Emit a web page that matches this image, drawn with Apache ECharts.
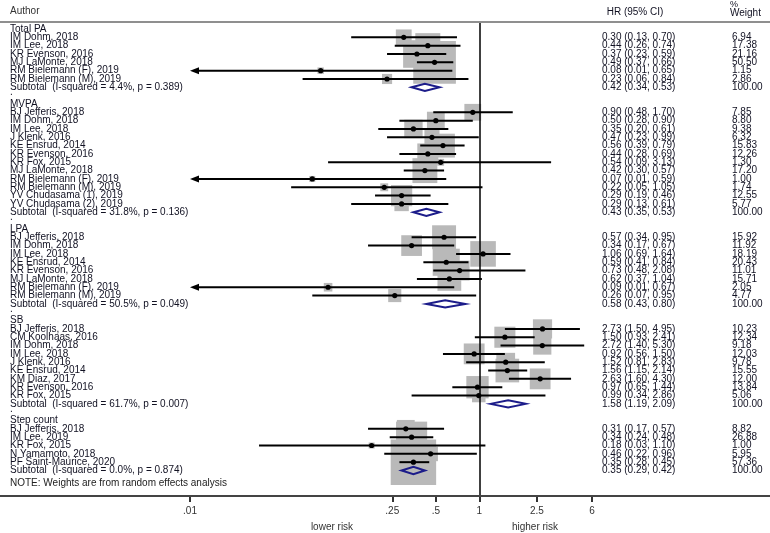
<!DOCTYPE html>
<html><head><meta charset="utf-8">
<script src="https://cdn.jsdelivr.net/npm/echarts@6/dist/echarts.min.js"></script>
<style>html,body{margin:0;padding:0;background:#fff}#c{width:770px;height:533px}</style>
</head><body><div id="c"></div>
<script>
const groupNames = ['Total PA', 'MVPA', 'LPA', 'SB', 'Step count'];

const studyGroup = [
  0,0,0,0,0,0,
  1,1,1,1,1,1,1,1,1,1,1,1,
  2,2,2,2,2,2,2,2,
  3,3,3,3,3,3,3,3,3,
  4,4,4,4,4
];
const studyName = [
  'IM Dohm, 2018','IM Lee, 2018','KR Evenson, 2016','MJ LaMonte, 2018','RM Bielemann (F), 2019','RM Bielemann (M), 2019',
  'BJ Jefferis, 2018','IM Dohm, 2018','IM Lee, 2018','J Klenk, 2016','KE Ensrud, 2014','KR Evenson, 2016','KR Fox, 2015','MJ LaMonte, 2018','RM Bielemann (F), 2019','RM Bielemann (M), 2019','YV Chudasama (1), 2019','YV Chudasama (2), 2019',
  'BJ Jefferis, 2018','IM Dohm, 2018','IM Lee, 2018','KE Ensrud, 2014','KR Evenson, 2016','MJ LaMonte, 2018','RM Bielemann (F), 2019','RM Bielemann (M), 2019',
  'BJ Jefferis, 2018','CM Koolhaas, 2016','IM Dohm, 2018','IM Lee, 2018','J Klenk, 2016','KE Ensrud, 2014','KM Diaz, 2017','KR Evenson, 2016','KR Fox, 2015',
  'BJ Jefferis, 2018','IM Lee, 2019','KR Fox, 2015','N Yamamoto, 2018','PF Saint-Maurice, 2020'
];
const studyHR = [
  0.30,0.44,0.37,0.49,0.08,0.23,
  0.90,0.50,0.35,0.47,0.56,0.44,0.54,0.42,0.07,0.22,0.29,0.29,
  0.57,0.34,1.06,0.59,0.73,0.62,0.09,0.26,
  2.73,1.50,2.72,0.92,1.52,1.56,2.63,0.97,0.99,
  0.31,0.34,0.18,0.46,0.35
];
const studyLo = [
  0.13,0.26,0.23,0.37,0.01,0.06,
  0.48,0.28,0.20,0.23,0.39,0.28,0.09,0.30,0.01,0.05,0.19,0.13,
  0.34,0.17,0.69,0.41,0.48,0.37,0.01,0.07,
  1.50,0.93,1.40,0.56,0.81,1.15,1.60,0.65,0.34,
  0.17,0.24,0.03,0.22,0.28
];
const studyHi = [
  0.70,0.74,0.59,0.66,0.65,0.84,
  1.70,0.90,0.61,0.99,0.79,0.69,3.13,0.57,0.59,1.05,0.46,0.61,
  0.95,0.67,1.64,0.84,2.08,1.04,0.67,0.95,
  4.95,2.41,5.30,1.50,2.83,2.14,4.30,1.44,2.86,
  0.57,0.48,1.10,0.96,0.45
];
const studyWeight = [
  6.94,17.38,21.16,50.50,1.15,2.86,
  7.85,8.80,9.38,6.32,15.83,12.26,1.30,17.20,1.00,1.74,12.55,5.77,
  15.92,11.92,18.19,20.43,11.01,15.71,2.05,4.77,
  10.23,12.34,9.18,12.03,9.78,15.55,12.00,13.84,5.06,
  8.82,26.88,1.00,5.95,57.36
];

const subtotalLabel = [
  'Subtotal  (I-squared = 4.4%, p = 0.389)',
  'Subtotal  (I-squared = 31.8%, p = 0.136)',
  'Subtotal  (I-squared = 50.5%, p = 0.049)',
  'Subtotal  (I-squared = 61.7%, p = 0.007)',
  'Subtotal  (I-squared = 0.0%, p = 0.874)'
];
const subtotalHR = [0.42, 0.43, 0.58, 1.58, 0.35];
const subtotalLo = [0.34, 0.35, 0.43, 1.19, 0.29];
const subtotalHi = [0.53, 0.53, 0.80, 2.09, 0.42];
const subtotalWeight = [100, 100, 100, 100, 100];

const tickValues = [0.01, 0.25, 0.5, 1, 2.5, 6];
const tickLabels = ['.01', '.25', '.5', '1', '2.5', '6'];
const noteText = 'NOTE: Weights are from random effects analysis';
const AXIS_MIN = 0.01, AXIS_MAX = 6;

// ---- build row layout ----
const textRows = [];   // [row, label, hrText, wText, kind]
const studyRows = [];  // [hr, row, lo, hi, w]
const subRows = [];    // [hr, row, lo, hi]
let r = 0;
groupNames.forEach((g, gi) => {
  textRows.push([r, g, '', '', 'head']); r++;
  studyName.forEach((n, i) => {
    if (studyGroup[i] !== gi) return;
    studyRows.push([studyHR[i], r, studyLo[i], studyHi[i], studyWeight[i]]);
    textRows.push([r, n,
      studyHR[i].toFixed(2) + ' (' + studyLo[i].toFixed(2) + ', ' + studyHi[i].toFixed(2) + ')',
      studyWeight[i].toFixed(2), 'study']);
    r++;
  });
  subRows.push([subtotalHR[gi], r, subtotalLo[gi], subtotalHi[gi]]);
  textRows.push([r, subtotalLabel[gi],
    subtotalHR[gi].toFixed(2) + ' (' + subtotalLo[gi].toFixed(2) + ', ' + subtotalHi[gi].toFixed(2) + ')',
    subtotalWeight[gi].toFixed(2), 'sub']);
  r++;
  if (gi < groupNames.length - 1) { textRows.push([r, '.', '', '', 'blank']); r++; }
});
textRows.push([r + 0.5, noteText, '', '', 'note']);

const FONT = '"Liberation Sans", Arial, Helvetica, sans-serif';
const TXT = '#111122';

const chart = echarts.init(document.getElementById('c'), null, {renderer: 'canvas'});

const option = {
  animation: false,
  backgroundColor: '#fff',
  grid: {left: 190, width: 402, top: 22, height: 474},
  xAxis: {
    type: 'log', logBase: 10, min: AXIS_MIN, max: AXIS_MAX, position: 'bottom',
    axisLine: {show: false, onZero: false},
    splitLine: {show: false},
    minorTick: {show: false},
    axisTick: {show: true, customValues: tickValues, length: 6, lineStyle: {color: '#333', width: 2}},
    axisLabel: {
      customValues: tickValues, margin: 10, color: '#333', fontSize: 10, fontFamily: FONT,
      formatter: v => {
        for (let i = 0; i < tickValues.length; i++) {
          if (Math.abs(tickValues[i] - v) / tickValues[i] < 1e-4) return tickLabels[i];
        }
        return '';
      }
    }
  },
  yAxis: {type: 'value', inverse: true, min: -0.84, max: 56.06, show: false},
  graphic: [
    {type: 'line', shape: {x1: 0, y1: 22, x2: 770, y2: 22}, style: {stroke: '#8f8f8f', lineWidth: 2}, z: 50},
    {type: 'line', shape: {x1: 0, y1: 496, x2: 770, y2: 496}, style: {stroke: '#444', lineWidth: 2}, z: 50},
    {type: 'text', left: 10, top: 6, style: {text: 'Author', fill: '#333', font: '10px ' + FONT}},
    {type: 'text', x: 635, y: 12, style: {text: 'HR (95% CI)', fill: TXT, font: '10px ' + FONT, textAlign: 'center', textVerticalAlign: 'middle'}},
    {type: 'text', x: 730, y: 5, style: {text: '%', fill: TXT, font: '9px ' + FONT, textVerticalAlign: 'middle'}},
    {type: 'text', x: 730, y: 13, style: {text: 'Weight', fill: TXT, font: '10px ' + FONT, textVerticalAlign: 'middle'}},
    {type: 'text', x: 332, y: 527, style: {text: 'lower risk', fill: '#333', font: '10px ' + FONT, textAlign: 'center', textVerticalAlign: 'middle'}},
    {type: 'text', x: 535, y: 527, style: {text: 'higher risk', fill: '#333', font: '10px ' + FONT, textAlign: 'center', textVerticalAlign: 'middle'}}
  ],
  series: [
    { // weight boxes
      type: 'custom', z: 1, clip: false,
      data: studyRows,
      renderItem: (params, api) => {
        const p = api.coord([api.value(0), api.value(1)]);
        const s = 6 * Math.sqrt(api.value(4));
        return {type: 'rect', shape: {x: p[0] - s / 2, y: p[1] - s / 2, width: s, height: s},
          style: {fill: '#b9b9b9'}};
      }
    },
    { // CI lines, point estimates, null line
      type: 'custom', z: 3, clip: false,
      data: studyRows,
      markLine: {
        silent: true, symbol: 'none', label: {show: false},
        lineStyle: {color: '#000', width: 1.5, type: 'solid'},
        data: [{xAxis: 1}]
      },
      renderItem: (params, api) => {
        const y = api.value(1);
        const p = api.coord([api.value(0), y]);
        const lo = api.value(2), hi = api.value(3);
        const arrow = lo <= AXIS_MIN;
        const pl = api.coord([Math.max(lo, AXIS_MIN), y]);
        const ph = api.coord([Math.min(hi, AXIS_MAX), y]);
        const ch = [
          {type: 'line', shape: {x1: arrow ? pl[0] + 5 : pl[0], y1: p[1], x2: ph[0], y2: p[1]},
            style: {stroke: '#000', lineWidth: 2}},
          {type: 'circle', shape: {cx: p[0], cy: p[1], r: 2.6}, style: {fill: '#000'}}
        ];
        if (arrow) {
          ch.push({type: 'polygon', shape: {points: [[pl[0], p[1]], [pl[0] + 9, p[1] - 3.5], [pl[0] + 9, p[1] + 3.5]]},
            style: {fill: '#000'}});
        }
        return {type: 'group', children: ch};
      }
    },
    { // subtotal diamonds
      type: 'custom', z: 4, clip: false,
      data: subRows,
      renderItem: (params, api) => {
        const y = api.value(1);
        const p = api.coord([api.value(0), y]);
        const pl = api.coord([api.value(2), y]);
        const ph = api.coord([api.value(3), y]);
        const h = 3.6;
        return {type: 'polygon',
          shape: {points: [[pl[0], p[1]], [p[0], p[1] - h], [ph[0], p[1]], [p[0], p[1] + h]]},
          style: {fill: 'none', stroke: '#1c1c8a', lineWidth: 2}};
      }
    },
    { // text columns
      type: 'custom', z: 5, clip: false,
      data: textRows.map(t => [1, t[0]]),
      renderItem: (params, api) => {
        const t = textRows[params.dataIndex];
        const py = api.coord([1, t[0]])[1];
        const ch = [];
        const isBlank = t[4] === 'blank';
        ch.push({type: 'text', x: 10, y: isBlank ? py - 3 : py,
          style: {text: t[1], fill: t[4] === 'note' ? '#222' : TXT, font: '10px ' + FONT, textVerticalAlign: 'middle'}});
        if (t[2]) ch.push({type: 'text', x: 602, y: py,
          style: {text: t[2], fill: TXT, font: '10px ' + FONT, textVerticalAlign: 'middle'}});
        if (t[3]) ch.push({type: 'text', x: 732, y: py,
          style: {text: t[3], fill: TXT, font: '10px ' + FONT, textVerticalAlign: 'middle'}});
        return {type: 'group', children: ch};
      }
    }
  ]
};
chart.setOption(option);
</script>
</body></html>
